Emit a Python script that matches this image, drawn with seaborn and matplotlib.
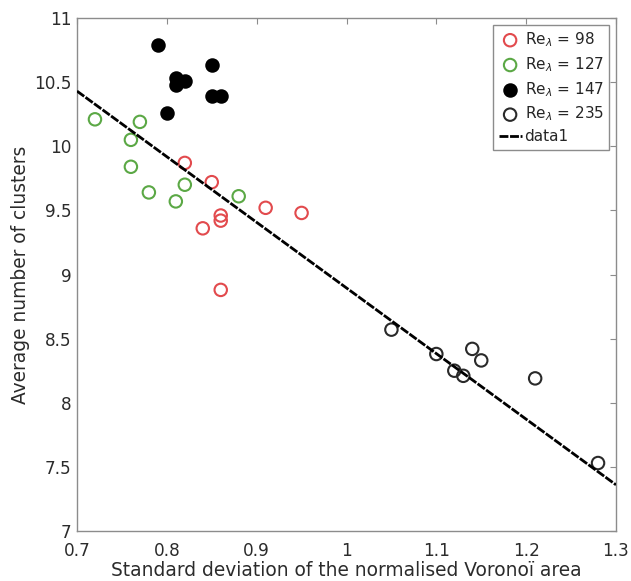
import matplotlib
matplotlib.use("Agg")
import matplotlib.pyplot as plt
import seaborn as sns

# Re_lambda = 98
x98 = [0.82, 0.85, 0.91, 0.95, 0.86, 0.86, 0.84, 0.86]
y98 = [9.87, 9.72, 9.52, 9.48, 9.46, 9.42, 9.36, 8.88]
# Re_lambda = 127
x127 = [0.72, 0.77, 0.76, 0.76, 0.78, 0.82, 0.81, 0.88]
y127 = [10.21, 10.19, 10.05, 9.84, 9.64, 9.70, 9.57, 9.61]
# Re_lambda = 147
x147 = [0.79, 0.85, 0.81, 0.82, 0.81, 0.85, 0.86, 0.80]
y147 = [10.79, 10.63, 10.53, 10.51, 10.48, 10.39, 10.39, 10.26]
# Re_lambda = 235
x235 = [1.05, 1.10, 1.12, 1.13, 1.14, 1.15, 1.21, 1.28]
y235 = [8.57, 8.38, 8.25, 8.21, 8.42, 8.33, 8.19, 7.53]

# linear fit line (end points)
fit_x = [0.70, 1.30]
fit_y = [10.43, 7.36]

xticks = [0.7, 0.8, 0.9, 1.0, 1.1, 1.2, 1.3]
xticklabels = ["0.7", "0.8", "0.9", "1", "1.1", "1.2", "1.3"]
yticks = [7, 7.5, 8, 8.5, 9, 9.5, 10, 10.5, 11]
yticklabels = ["7", "7.5", "8", "8.5", "9", "9.5", "10", "10.5", "11"]

sns.set_theme(style="white")
plt.rcParams["font.family"] = ["DejaVu Sans"]
plt.rcParams["mathtext.fontset"] = "dejavusans"

fig = plt.figure(figsize=(6.31, 5.81), dpi=100)
ax = fig.add_axes([77 / 631, 1 - 531 / 581, (616 - 77) / 631, (531 - 18) / 581])

ms = 80
ew = 1.5
groups = [
    (x98, y98, "#e24a4d", False, r"Re$_{\lambda}$ = 98"),
    (x127, y127, "#5ba845", False, r"Re$_{\lambda}$ = 127"),
    (x147, y147, "#000000", True, r"Re$_{\lambda}$ = 147"),
    (x235, y235, "#2a2a2a", False, r"Re$_{\lambda}$ = 235"),
]
for gx, gy, c, filled, lab in groups:
    if filled:
        sns.scatterplot(x=gx, y=gy, ax=ax, s=ms, color=c, edgecolor=c,
                        linewidth=ew, label=lab, zorder=3)
    else:
        sns.scatterplot(x=gx, y=gy, ax=ax, s=ms, facecolors="none",
                        edgecolor=c, linewidth=ew, label=lab, zorder=3)

sns.lineplot(x=fit_x, y=fit_y, ax=ax, color="#000000", linewidth=2.0,
             linestyle=(0, (3.2, 0.6)), label="data1", zorder=4)

ax.set_xlim(0.7, 1.3)
ax.set_ylim(7, 11)
ax.set_xticks(xticks)
ax.set_xticklabels(xticklabels)
ax.set_yticks(yticks)
ax.set_yticklabels(yticklabels)

spine_c = "#8c8c8c"
for s in ax.spines.values():
    s.set_color(spine_c)
    s.set_linewidth(1.0)
ax.tick_params(direction="in", length=4, width=0.8, color=spine_c,
               top=True, right=True, labelsize=12.2, labelcolor="#2b2b2b")
ax.tick_params(axis="x", pad=8)
ax.tick_params(axis="y", pad=4)

ax.set_xlabel("Standard deviation of the normalised Voronoï area",
              fontsize=13.4, color="#2b2b2b", labelpad=1)
ax.set_ylabel("Average number of clusters", fontsize=13.4, color="#2b2b2b",
              labelpad=3)

leg = ax.legend(loc="upper right", fontsize=11, frameon=True, fancybox=False,
                edgecolor="#8c8c8c", framealpha=1, borderaxespad=0.45,
                handlelength=1.5, handletextpad=0.2, borderpad=0.35,
                labelspacing=0.4)
leg.get_frame().set_linewidth(1.0)

fig.savefig("out.png", dpi=100)
